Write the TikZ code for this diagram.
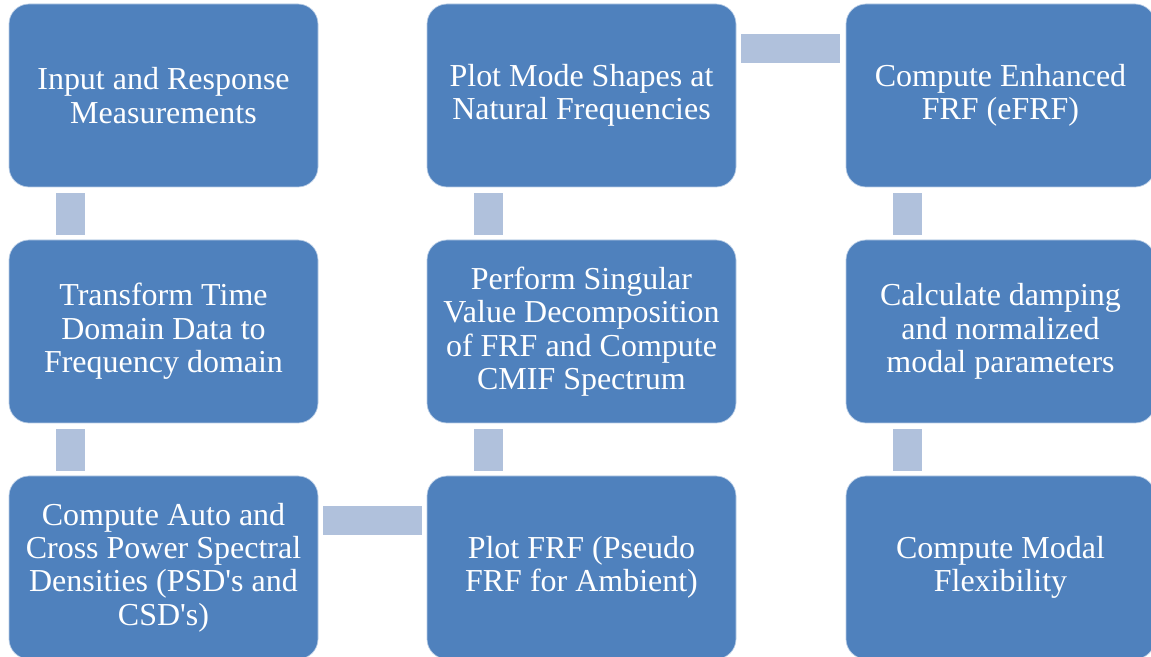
\documentclass[tikz,border=0pt]{standalone}
\usepackage{fontspec}
\setmainfont{Liberation Serif}
\usepackage{tikz}
\usetikzlibrary{shapes.geometric, arrows}
\definecolor{boxblue}{HTML}{4F81BD}
\definecolor{linkblue}{HTML}{B0C1DC}
\tikzstyle{stepbox} = [rectangle, rounded corners=0.4cm, minimum width=6.18cm, minimum height=3.66cm, text centered, align=center, fill=boxblue, draw=white!60!boxblue, line width=0.4pt, text=white, font=\fontsize{18.2}{19}\selectfont]
\tikzstyle{link} = [draw=linkblue, line width=0.58cm, line cap=butt]

\begin{document}
\begin{tikzpicture}[node distance=4.72cm]
\useasboundingbox (0,0) rectangle (23.02,-13.14);
\node (meas) [stepbox] at (3.27,-1.91) {Input and Response\\Measurements};
\node (fft) [stepbox, below of=meas] {Transform Time\\Domain Data to\\Frequency domain};
\node (psd) [stepbox, below of=fft] {Compute Auto and\\Cross Power Spectral\\Densities (PSD\textquotesingle s and\\CSD\textquotesingle s)};
\node (frf) [stepbox, right of=psd, xshift=3.64cm] {Plot FRF (Pseudo\\FRF for Ambient)};
\node (svd) [stepbox, above of=frf] {Perform Singular\\Value Decomposition\\of FRF and Compute\\CMIF Spectrum};
\node (modes) [stepbox, above of=svd] {Plot Mode Shapes at\\Natural Frequencies};
\node (efrf) [stepbox, right of=modes, xshift=3.66cm] {Compute Enhanced\\FRF (eFRF)};
\node (damp) [stepbox, below of=efrf] {Calculate damping\\and normalized\\modal parameters};
\node (flex) [stepbox, below of=damp] {Compute Modal\\Flexibility};
\draw [link] ([xshift=1.23cm, yshift=-0.12cm]meas.south west) -- ([xshift=1.23cm, yshift=0.1cm]fft.north west);
\draw [link] ([xshift=1.23cm, yshift=-0.12cm]fft.south west) -- ([xshift=1.23cm, yshift=0.1cm]psd.north west);
\draw [link] ([xshift=0.1cm, yshift=-0.89cm]psd.north east) -- ([xshift=-0.1cm, yshift=-0.89cm]frf.north west);
\draw [link] ([xshift=1.23cm, yshift=0.1cm]frf.north west) -- ([xshift=1.23cm, yshift=-0.12cm]svd.south west);
\draw [link] ([xshift=1.23cm, yshift=0.1cm]svd.north west) -- ([xshift=1.23cm, yshift=-0.12cm]modes.south west);
\draw [link] ([xshift=0.1cm, yshift=-0.89cm]modes.north east) -- ([xshift=-0.12cm, yshift=-0.89cm]efrf.north west);
\draw [link] ([xshift=1.23cm, yshift=-0.12cm]efrf.south west) -- ([xshift=1.23cm, yshift=0.1cm]damp.north west);
\draw [link] ([xshift=1.23cm, yshift=-0.12cm]damp.south west) -- ([xshift=1.23cm, yshift=0.1cm]flex.north west);
\end{tikzpicture}
\end{document}
